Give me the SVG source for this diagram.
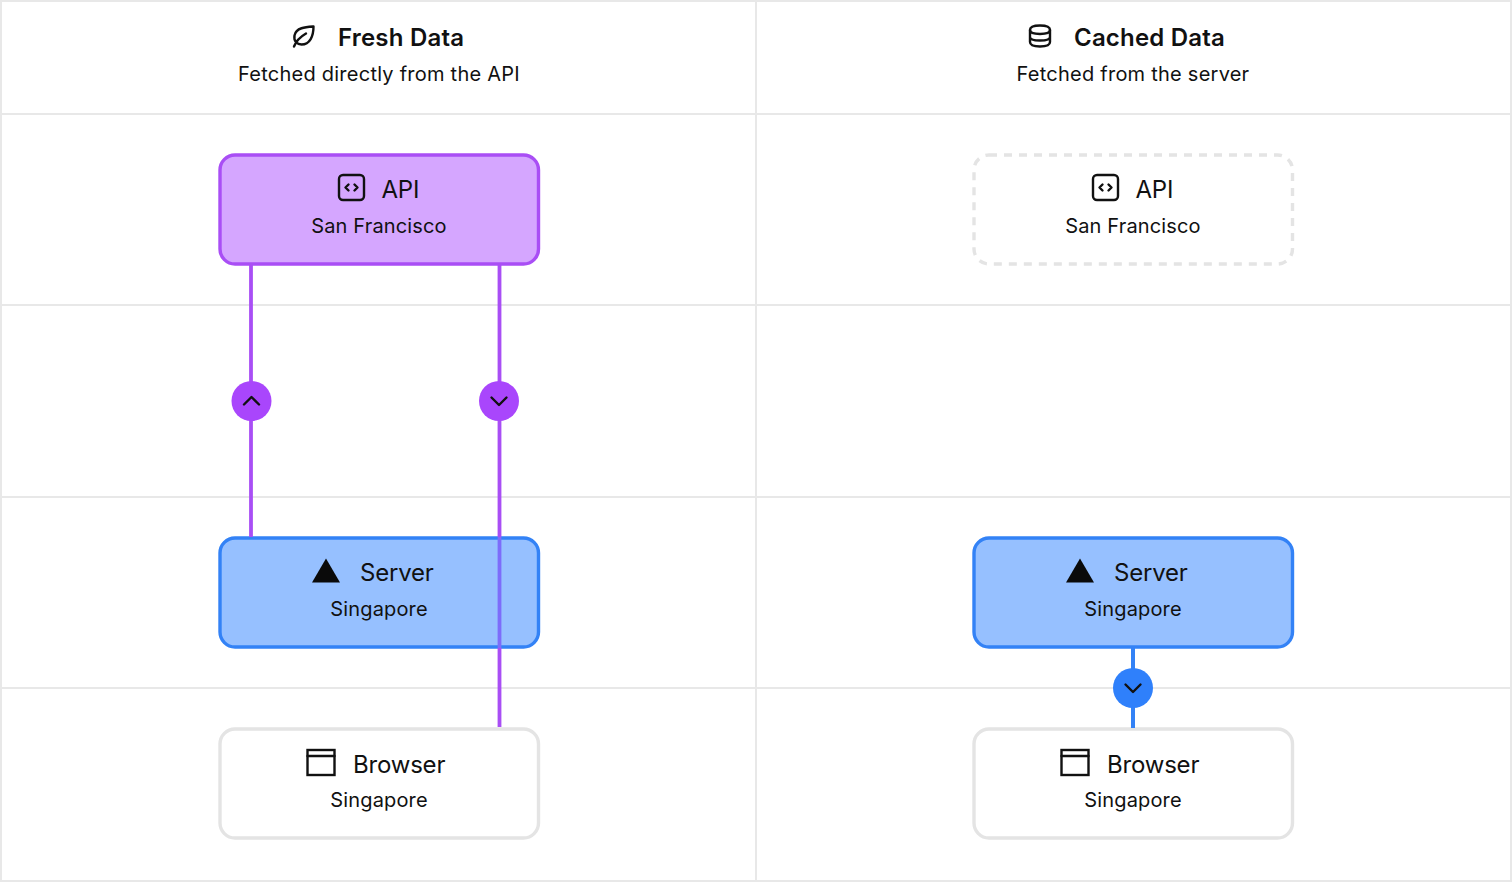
<svg xmlns="http://www.w3.org/2000/svg" xmlns:xlink="http://www.w3.org/1999/xlink" width="1512" height="882" viewBox="0 0 1512 882">
<style>
text{font-family:Inter,"Noto Sans","Liberation Sans",sans-serif;fill:#111;text-anchor:middle}
.title{font-size:24px;font-weight:600;letter-spacing:.2px;text-anchor:start}
.sub{font-size:20px;letter-spacing:.24px}
.name{font-size:24px;letter-spacing:-.2px;text-anchor:start}
.place{font-size:20px;letter-spacing:.15px}
.grid{stroke:#e8e8e8;stroke-width:2;fill:none}
.box{stroke-width:3.400}
.purple{fill:#d5a6ff;stroke:#a94ef5}
.blue{fill:#96c0ff;stroke:#3382f6}
.white{fill:#fff;stroke:#e4e4e4}
.ghost{fill:#fff;stroke:#e4e4e4;stroke-dasharray:8 7}
.ic{fill:none;stroke:#111;stroke-width:2.400;stroke-linecap:round;stroke-linejoin:round}
.chev{fill:none;stroke:#111;stroke-width:2.400;stroke-linecap:round;stroke-linejoin:round}
.lp{stroke:#a94ef5;stroke-width:3.800;fill:none}
.lb{stroke:#3382f6;stroke-width:4;fill:none}
</style>
<defs>
<g id="api-ic"><rect x="-12.5" y="-12.5" width="25" height="25" rx="4" class="ic"/><path class="ic" d="M-3 -3 L-6 0 L-3 3 M3 -3 L6 0 L3 3"/></g>
<g id="tri-ic"><path d="M0 -12.5 L14 11.5 L-14 11.5 Z" fill="#0a0a0a"/></g>
<g id="win-ic"><rect x="-13.5" y="-12.5" width="27" height="25" class="ic" style="stroke-linejoin:miter"/><path class="ic" d="M-13.5 -6.5 H13.5"/></g>
</defs>
<rect width="1512" height="882" fill="#fff"/>
<g id="grid">
<path class="grid" d="M0 1H1512M0 114H1512M0 305H1512M0 497H1512M0 688H1512M0 881H1512M1 0V882M756 0V882M1511 0V882"/>
</g>
<g id="header-fresh">
<path class="ic" d="M313.500 26.500 C306 27 296 27.500 294.500 35.500 C293.500 41 297 44.500 301.500 44.500 C310 44.500 313.500 36 313.500 26.500 Z M294 46.500 C296 41 300 37 306 33.500"/>
<text class="title" x="338" y="46">Fresh Data</text>
<text class="sub" x="379" y="81">Fetched directly from the API</text>
</g>
<g id="header-cached">
<path class="ic" d="M1030 30C1030 27 1034.500 25.500 1040 25.500S1050 27 1050 30S1045.500 34 1040 34S1030 33 1030 30Z"/>
<path class="ic" d="M1030 30V42C1030 45 1034.500 46.500 1040 46.500S1050 45 1050 42V30M1030 37C1030 39.500 1034.500 40.500 1040 40.500S1050 39.500 1050 37"/>
<text class="title" x="1074" y="46">Cached Data</text>
<text class="sub" x="1133" y="81">Fetched from the server</text>
</g>
<g id="node-api-fresh">
<rect class="box purple" x="220" y="155" width="318.500" height="109" rx="15"/>
<use xlink:href="#api-ic" x="351.500" y="187.500"/>
<text class="name" x="381.500" y="197.600">API</text>
<text class="place" x="379" y="233">San Francisco</text>
</g>
<g id="node-server-fresh">
<rect class="box blue" x="220" y="538" width="318.500" height="109" rx="15"/>
<use xlink:href="#tri-ic" x="326" y="571"/>
<text class="name" x="360" y="580.600">Server</text>
<text class="place" x="379" y="616">Singapore</text>
</g>
<g id="node-browser-fresh">
<rect class="box white" x="220" y="729" width="318.500" height="109" rx="15"/>
<use xlink:href="#win-ic" x="321" y="762.500"/>
<text class="name" x="353" y="772.600">Browser</text>
<text class="place" x="379" y="807">Singapore</text>
</g>
<g id="node-api-cached">
<rect class="box ghost" x="974" y="155" width="318.500" height="109" rx="15"/>
<use xlink:href="#api-ic" x="1105.500" y="187.500"/>
<text class="name" x="1135.500" y="197.600">API</text>
<text class="place" x="1133" y="233">San Francisco</text>
</g>
<g id="node-server-cached">
<rect class="box blue" x="974" y="538" width="318.500" height="109" rx="15"/>
<use xlink:href="#tri-ic" x="1080" y="571"/>
<text class="name" x="1114" y="580.600">Server</text>
<text class="place" x="1133" y="616">Singapore</text>
</g>
<g id="node-browser-cached">
<rect class="box white" x="974" y="729" width="318.500" height="109" rx="15"/>
<use xlink:href="#win-ic" x="1075" y="762.500"/>
<text class="name" x="1107" y="772.600">Browser</text>
<text class="place" x="1133" y="807">Singapore</text>
</g>
<g id="connectors">
<path class="lp" d="M251 265V537"/>
<path class="lp" d="M499.500 265V537M499.500 648V727"/>
<path d="M499.500 537V648" stroke="#7d6cfa" stroke-width="3.800" fill="none"/>
<path class="lb" d="M1133 648V728"/>
<circle cx="251.500" cy="401" r="20" fill="#a946fc"/>
<path class="chev" d="M244 404.500 L251.500 397 L259 404.500"/>
<circle cx="499" cy="401" r="20" fill="#a946fc"/>
<path class="chev" d="M491.500 397.500 L499 405 L506.500 397.500"/>
<circle cx="1133" cy="688" r="20" fill="#2f80fb"/>
<path class="chev" d="M1125.500 684.500 L1133 692 L1140.500 684.500"/>
</g>
</svg>
